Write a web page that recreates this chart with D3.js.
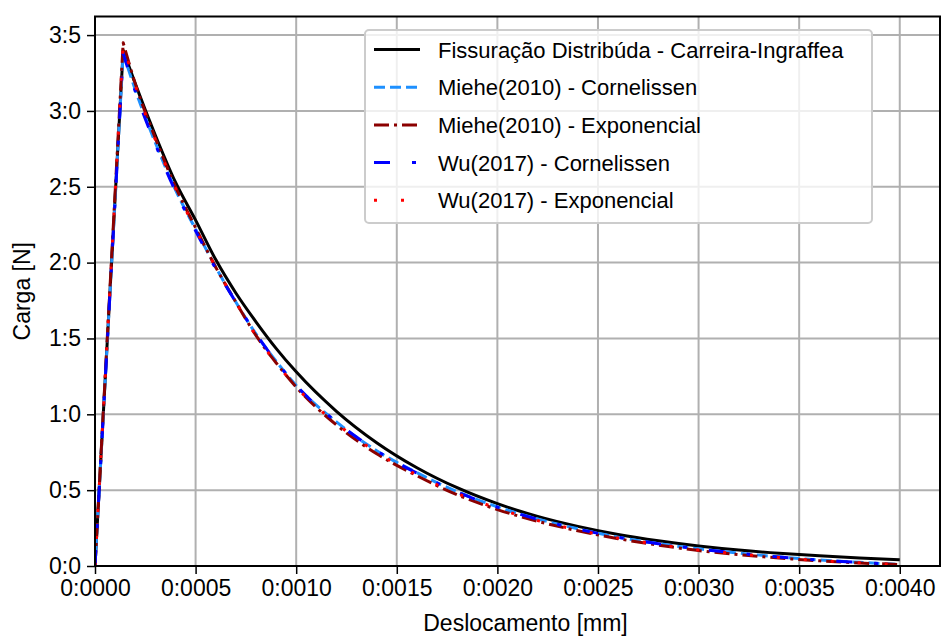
<!DOCTYPE html>
<html>
<head>
<meta charset="utf-8">
<script src="https://cdn.jsdelivr.net/npm/d3@7/dist/d3.min.js"></script>
<style>
  body { margin: 0; background: #fff; }
  text { font-family: "Liberation Sans", Arial, sans-serif; fill: #000; }
</style>
</head>
<body>
<div id="chart"></div>
<script>
/* -----------------    DATA     ------------------ */

// Deslocamento [mm]
const deslocamento = [0, 0.00014, 0.0002, 0.0003, 0.0004, 0.0005, 0.0006, 0.0007, 0.0008, 0.0009,
    0.0010, 0.0012, 0.0014, 0.0016, 0.0018, 0.0020, 0.0022, 0.0024, 0.0026, 0.0028,
    0.0030, 0.0032, 0.0034, 0.0036, 0.0038, 0.0040];

// Carga [N]
const carreiraIngraffea = [0, 3.40, 3.18, 2.84, 2.53, 2.28, 2.02, 1.80, 1.61, 1.435,
    1.28, 1.02, 0.813, 0.648, 0.516, 0.411, 0.327, 0.261, 0.208, 0.166,
    0.132, 0.105, 0.084, 0.067, 0.053, 0.042];
const mieheCornelissen = [0, 3.38, 3.14, 2.79, 2.48, 2.22, 1.97, 1.74, 1.53, 1.35,
    1.19, 0.95, 0.76, 0.615, 0.49, 0.39, 0.31, 0.245, 0.19, 0.148,
    0.113, 0.085, 0.060, 0.040, 0.024, 0.011];
const mieheExponencial = [0, 3.45, 3.18, 2.82, 2.50, 2.23, 1.97, 1.74, 1.52, 1.34,
    1.18, 0.93, 0.74, 0.595, 0.47, 0.372, 0.295, 0.232, 0.18, 0.138,
    0.102, 0.075, 0.053, 0.034, 0.020, 0.010];
const wuCornelissen = [0, 3.38, 3.13, 2.78, 2.47, 2.21, 1.96, 1.74, 1.53, 1.35,
    1.19, 0.95, 0.76, 0.612, 0.488, 0.388, 0.308, 0.243, 0.19, 0.147,
    0.112, 0.084, 0.059, 0.039, 0.023, 0.011];
const wuExponencial = [0, 3.44, 3.17, 2.81, 2.49, 2.22, 1.97, 1.74, 1.52, 1.34,
    1.18, 0.94, 0.75, 0.60, 0.478, 0.38, 0.30, 0.237, 0.184, 0.142,
    0.106, 0.079, 0.056, 0.036, 0.021, 0.010];

const xTicks = [0, 0.0005, 0.0010, 0.0015, 0.0020, 0.0025, 0.0030, 0.0035, 0.0040];
const yTicks = [0, 0.5, 1.0, 1.5, 2.0, 2.5, 3.0, 3.5];

const seriesNames = [
    'Fissuração Distribúda - Carreira-Ingraffea',
    'Miehe(2010) - Cornelissen',
    'Miehe(2010) - Exponencial',
    'Wu(2017) - Cornelissen',
    'Wu(2017) - Exponencial'
];

/* -----------------    SETTINGS     ------------------ */
const graphSettings = {
    svgWidth: 941,
    svgHeight: 636,
    left: 95,
    right: 940,
    top: 16.5,
    bottom: 566,
    fontSize: 23,
    legendFontSize: 22,
    grid: '#b0b0b0'
};

const styles = [
    { color: '#000000', dash: null, width: 3 },
    { color: '#1e90ff', dash: '11,5', width: 3 },
    { color: '#8b0000', dash: '15,5,3,5', width: 3 },
    { color: '#0000ff', dash: '16,22,4,22', width: 3 },
    { color: '#ff0000', dash: '3,24', width: 3 }
];

const seriesValues = [carreiraIngraffea, mieheCornelissen, mieheExponencial, wuCornelissen, wuExponencial];

/* -----------------    LOGIC     ------------------ */
const gs = graphSettings;
const fmt = v => d3.format('.4f')(v).replace('.', ':');
const fmtY = v => d3.format('.1f')(v).replace('.', ':');

const svg = d3.select('#chart')
    .append('svg')
    .attr('width', gs.svgWidth)
    .attr('height', gs.svgHeight);

const xScale = d3.scaleLinear()
    .domain([0, 0.0042])
    .range([gs.left, gs.right]);

const yScale = d3.scaleLinear()
    .domain([0, 3.6225])
    .range([gs.bottom, gs.top]);

// Grid
svg.append('g')
    .selectAll('line')
    .data(xTicks)
    .enter()
    .append('line')
    .attr('x1', d => xScale(d)).attr('x2', d => xScale(d))
    .attr('y1', gs.top).attr('y2', gs.bottom)
    .attr('stroke', gs.grid).attr('stroke-width', 2);

svg.append('g')
    .selectAll('line')
    .data(yTicks)
    .enter()
    .append('line')
    .attr('x1', gs.left).attr('x2', gs.right)
    .attr('y1', d => yScale(d)).attr('y2', d => yScale(d))
    .attr('stroke', gs.grid).attr('stroke-width', 2);

// Lines: straight rise up to the peak, smooth softening branch after it
const toPoints = values => values.map((v, i) => [xScale(deslocamento[i]), yScale(v)]);
const peakIndex = values => values.indexOf(d3.max(values));

const rise = d3.line().curve(d3.curveLinear);
const soft = d3.line().curve(d3.curveMonotoneX);

const pathFor = values => {
    const pts = toPoints(values);
    const k = peakIndex(values);
    const a = rise(pts.slice(0, k + 1));
    const b = soft(pts.slice(k));
    return a + 'L' + b.slice(1);
};

svg.append('defs').append('clipPath').attr('id', 'clip')
    .append('rect')
    .attr('x', gs.left).attr('y', gs.top)
    .attr('width', gs.right - gs.left).attr('height', gs.bottom - gs.top);

svg.append('g')
    .attr('clip-path', 'url(#clip)')
    .selectAll('path')
    .data(seriesValues)
    .enter()
    .append('path')
    .attr('d', d => pathFor(d))
    .attr('fill', 'none')
    .attr('stroke', (d, i) => styles[i].color)
    .attr('stroke-width', (d, i) => styles[i].width)
    .attr('stroke-linejoin', 'round')
    .attr('stroke-dasharray', (d, i) => styles[i].dash);

// Axes
const xAxis = d3.axisBottom(xScale).tickValues(xTicks).tickFormat(fmt).tickSize(8).tickPadding(6);
const yAxis = d3.axisLeft(yScale).tickValues(yTicks).tickFormat(fmtY).tickSize(8).tickPadding(6);

const gx = svg.append('g')
    .attr('transform', `translate(0, ${gs.bottom})`)
    .call(xAxis);
const gy = svg.append('g')
    .attr('transform', `translate(${gs.left}, 0)`)
    .call(yAxis);

[gx, gy].forEach(g => {
    g.select('.domain').remove();
    g.selectAll('line').attr('stroke', '#000').attr('stroke-width', 1.5);
    g.selectAll('text').style('font-size', gs.fontSize + 'px').attr('fill', '#000');
});

// Frame
svg.append('rect')
    .attr('x', gs.left).attr('y', gs.top)
    .attr('width', gs.right - gs.left).attr('height', gs.bottom - gs.top)
    .attr('fill', 'none').attr('stroke', '#000').attr('stroke-width', 2);

// Axis labels
svg.append('text')
    .attr('x', (gs.left + gs.right) / 2 + 8)
    .attr('y', 631)
    .attr('text-anchor', 'middle')
    .style('font-size', gs.fontSize + 'px')
    .text('Deslocamento [mm]');

svg.append('text')
    .attr('transform', `translate(30, ${(gs.top + gs.bottom) / 2}) rotate(-90)`)
    .attr('text-anchor', 'middle')
    .style('font-size', gs.fontSize + 'px')
    .text('Carga [N]');

// Legend
const legend = svg.append('g').attr('transform', 'translate(365, 30)');
legend.append('rect')
    .attr('width', 507).attr('height', 193)
    .attr('rx', 4)
    .attr('fill', '#fff').attr('fill-opacity', 0.8)
    .attr('stroke', '#cccccc').attr('stroke-width', 2);

const items = legend.selectAll('g.item')
    .data(seriesNames)
    .enter()
    .append('g')
    .attr('transform', (d, i) => `translate(0, ${19.5 + i * 37.7})`);

items.append('line')
    .attr('x1', 9).attr('x2', 55)
    .attr('y1', 0).attr('y2', 0)
    .attr('stroke', (d, i) => styles[i].color)
    .attr('stroke-width', 3)
    .attr('stroke-dasharray', (d, i) => styles[i].dash);

items.append('text')
    .attr('x', 73)
    .attr('y', 8)
    .style('font-size', gs.legendFontSize + 'px')
    .text(d => d);
</script>
</body>
</html>
